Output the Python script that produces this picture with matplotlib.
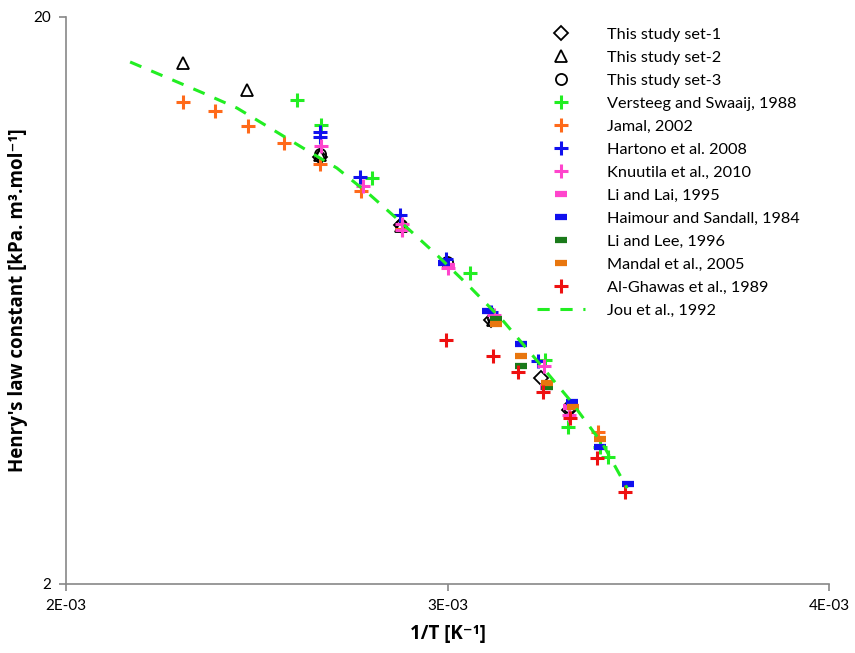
import numpy as np
import matplotlib
matplotlib.use("Agg")
import matplotlib.pyplot as plt
from matplotlib.ticker import FixedLocator, FuncFormatter, NullLocator

plt.rcParams['font.family'] = ['Lato', 'DejaVu Sans']

# 1/T in units of 1e-3 K^-1, Henry's constant in kPa.m3/mol
set1_x = [2.666, 2.878, 3.114, 3.245, 3.318]
set1_y = [11.33, 8.59, 5.84, 4.62, 4.05]
set2_x = [2.307, 2.474, 2.666, 2.878, 3.119]
set2_y = [16.59, 14.87, 11.42, 8.56, 5.84]
set3_x = [2.666, 2.878, 2.999, 3.119, 3.318]
set3_y = [11.45, 8.60, 7.40, 5.89, 4.10]

versteeg_x = [2.606, 2.668, 2.802, 3.059, 3.256, 3.316, 3.400, 3.421]
versteeg_y = [14.28, 12.90, 10.40, 7.07, 4.97, 3.78, 3.49, 3.35]
jamal_x = [2.307, 2.391, 2.477, 2.571, 2.666, 2.773, 2.881, 3.394]
jamal_y = [14.16, 13.65, 12.85, 11.99, 11.01, 9.87, 8.46, 3.71]
hartono_x = [2.666, 2.666, 2.771, 2.875, 2.996, 3.114, 3.237]
hartono_y = [12.55, 12.29, 10.44, 8.95, 7.49, 6.04, 4.95]
knuutila_x = [2.668, 2.779, 2.881, 2.881, 3.001, 3.122, 3.253, 3.318]
knuutila_y = [11.85, 10.07, 8.63, 8.42, 7.22, 5.96, 4.85, 3.97]
lilai_x = [3.004, 3.258, 3.318]
lilai_y = [7.28, 4.45, 4.10]
haimour_x = [2.992, 3.106, 3.193, 3.326, 3.400, 3.473]
haimour_y = [7.35, 6.06, 5.30, 4.19, 3.49, 3.00]
lilee_x = [3.127, 3.193, 3.261]
lilee_y = [5.87, 4.85, 4.45]
mandal_x = [3.127, 3.193, 3.261, 3.329, 3.400]
mandal_y = [5.75, 5.05, 4.52, 4.10, 3.60]
ghawas_x = [2.996, 3.119, 3.185, 3.250, 3.321, 3.392, 3.465]
ghawas_y = [5.39, 5.05, 4.73, 4.36, 3.92, 3.34, 2.91]

jou_x = [2.168, 2.273, 2.359, 2.448, 2.535, 2.621, 2.710, 2.797,
         2.883, 2.972, 3.059, 3.146, 3.235, 3.321, 3.408, 3.471]
jou_y = [16.66, 15.55, 14.69, 13.82, 12.74, 11.75, 10.83, 9.71,
         8.63, 7.61, 6.68, 5.82, 4.95, 4.22, 3.52, 2.95]

fig = plt.figure(figsize=(8.55, 6.53), dpi=100)
ax = fig.add_axes([0.0772, 0.1057, 0.8924, 0.8683])

def sc(x):
    return np.array(x) * 1e-3

open_kw = dict(ls='none', mfc='none', mec='black', mew=1.3)
ax.plot(sc(set1_x), set1_y, marker='D', ms=7, label='This study set-1', **open_kw)
ax.plot(sc(set2_x), set2_y, marker='^', ms=9, label='This study set-2', **open_kw)
ax.plot(sc(set3_x), set3_y, marker='o', ms=8, label='This study set-3', **open_kw)

plus_kw = dict(ls='none', marker='+', ms=10, mew=2.2)
dash_kw = dict(ls='none', marker='_', ms=8, mew=4.5)
ax.plot(sc(versteeg_x), versteeg_y, color='#22ee22', label='Versteeg and Swaaij, 1988', **plus_kw)
ax.plot(sc(jamal_x), jamal_y, color='#ff6a1a', label='Jamal, 2002', **plus_kw)
ax.plot(sc(hartono_x), hartono_y, color='#1010ee', label='Hartono et al. 2008', **plus_kw)
ax.plot(sc(knuutila_x), knuutila_y, color='#ff44cc', label='Knuutila et al., 2010', **plus_kw)
ax.plot(sc(lilai_x), lilai_y, color='#ff44cc', label='Li and Lai, 1995', **dash_kw)
ax.plot(sc(haimour_x), haimour_y, color='#1010ee', label='Haimour and Sandall, 1984', **dash_kw)
ax.plot(sc(lilee_x), lilee_y, color='#1a7a1a', label='Li and Lee, 1996', **dash_kw)
ax.plot(sc(mandal_x), mandal_y, color='#e8760e', label='Mandal et al., 2005', **dash_kw)
ax.plot(sc(ghawas_x), ghawas_y, color='#ee1111', label='Al-Ghawas et al., 1989', **plus_kw)
ax.plot(sc(jou_x), jou_y, color='#22ee22', ls=(0, (4, 3.5)), lw=2.2, label='Jou et al., 1992')

ax.set_yscale('log')
ax.set_xlim(2e-3, 4e-3)
ax.set_ylim(2, 20)
ax.xaxis.set_major_locator(FixedLocator([2e-3, 3e-3, 4e-3]))
ax.xaxis.set_major_formatter(FuncFormatter(lambda v, p: '%dE-03' % round(v * 1e3)))
ax.yaxis.set_major_locator(FixedLocator([2, 20]))
ax.yaxis.set_major_formatter(FuncFormatter(lambda v, p: '%g' % v))
ax.yaxis.set_minor_locator(NullLocator())

for side in ['top', 'right']:
    ax.spines[side].set_visible(False)
for side in ['left', 'bottom']:
    ax.spines[side].set_color('#888888')
    ax.spines[side].set_linewidth(1.2)
ax.tick_params(axis='both', direction='out', length=5, width=1.2, color='#888888',
               labelsize=11, pad=6)

label_font = dict(fontsize=13.5, fontweight='bold', family=['Open Sans', 'DejaVu Sans'])
ax.set_xlabel('1/T [K⁻¹]', labelpad=8, **label_font)
ax.set_ylabel('Henry\'s law constant [kPa. m³.mol⁻¹]', **label_font)
ax.yaxis.set_label_coords(-0.05, 0.5)

ax.legend(loc='upper left', bbox_to_anchor=(522 / 855, 1 - 13 / 653),
          bbox_transform=fig.transFigure, frameon=False, fontsize=11.7,
          handlelength=3.0, handletextpad=1.3, labelspacing=0.53, numpoints=1)

fig.savefig('out.png', dpi=100)
